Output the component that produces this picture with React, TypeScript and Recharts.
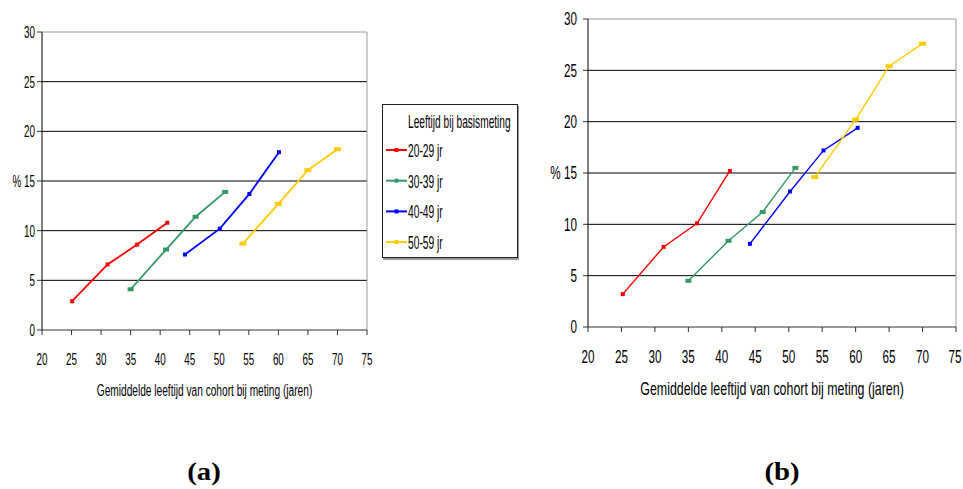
import React from 'react';
import { LineChart, Line, XAxis, YAxis, CartesianGrid, Legend, ReferenceLine, Label } from 'recharts';

const SERIES_NAMES = ['20-29 jr', '30-39 jr', '40-49 jr', '50-59 jr'];
const LEGEND_TITLE = 'Leeftijd bij basismeting';
const X_TITLE = 'Gemiddelde leeftijd van cohort bij meting (jaren)';
const X_TICKS = [20, 25, 30, 35, 40, 45, 50, 55, 60, 65, 70, 75];
const Y_TICKS = [0, 5, 10, 15, 20, 25, 30];
const GRID_VALUES = [5, 10, 15, 20, 25];

// (a) gemiddelde leeftijd en percentage per cohort
const AGES_A = [
  [25.1, 31.1, 36.1, 41.2],
  [35.0, 41.0, 46.0, 51.0],
  [44.2, 50.1, 55.1, 60.1],
  [54.0, 60.0, 65.0, 70.0],
];
const PCT_A = [
  [2.9, 6.6, 8.6, 10.8],
  [4.1, 8.1, 11.4, 13.9],
  [7.6, 10.2, 13.7, 17.9],
  [8.7, 12.7, 16.1, 18.2],
];

// (b)
const AGES_B = [
  [25.2, 31.3, 36.3, 41.2],
  [35.0, 41.0, 46.1, 51.0],
  [44.2, 50.2, 55.2, 60.3],
  [53.9, 60.0, 65.0, 70.0],
];
const PCT_B = [
  [3.2, 7.8, 10.1, 15.2],
  [4.5, 8.4, 11.2, 15.5],
  [8.1, 13.2, 17.2, 19.4],
  [14.6, 20.2, 25.4, 27.6],
];

const COLORS = ['#ff0000', '#339966', '#0000ff', '#ffcc00'];
const MARKER_W = [4, 6, 4, 7];
const MARKER_H = [4, 4, 4, 4];

// smalle letter (Arial Narrow-achtig) via horizontale schaal
const FONT = "'Liberation Sans', Arial, sans-serif";

const NarrowText = ({ x, y, size, sx, anchor, children }: any) => (
  <text
    transform={`translate(${x},${y}) scale(${sx},1)`}
    x={0}
    y={0}
    textAnchor={anchor}
    fontFamily={FONT}
    fontSize={size}
    fill="#000"
  >
    {children}
  </text>
);

const makeXTick = (size: number, sx: number) => (props: any) => {
  const { x, y, payload } = props;
  return <NarrowText x={x} y={y + size * 0.716} size={size} sx={sx} anchor="middle">{payload.value}</NarrowText>;
};

const makeYTick = (size: number, sx: number) => (props: any) => {
  const { x, y, payload } = props;
  const v = payload.value;
  return (
    <NarrowText x={x} y={y + size * 0.358} size={size} sx={sx} anchor="end">
      {v === 15 ? `%  ${v}` : `${v}`}
    </NarrowText>
  );
};

const makeTitle = (size: number, sx: number, top: number) => (props: any) => {
  const vb = props.viewBox || {};
  const cx = (vb.x ?? 0) + (vb.width ?? 0) / 2;
  const y = (vb.y ?? 0) + top + size * 0.716;
  return <NarrowText x={cx} y={y} size={size} sx={sx} anchor="middle">{X_TITLE}</NarrowText>;
};

const makeDot = (i: number) => (props: any) => {
  const { cx, cy, index } = props;
  if (cx == null || cy == null) return <g key={index} />;
  const w = MARKER_W[i];
  const h = MARKER_H[i];
  return <rect key={index} x={cx - w / 2} y={cy - h / 2} width={w} height={h} fill={COLORS[i]} />;
};

const renderLegend = (props: any) => {
  const payload = props.payload || [];
  return (
    <div style={{ position: 'relative', width: 134, height: 152, border: '1px solid #222', boxShadow: '1px 2px 0 #999', background: '#fff' }}>
      <svg width={134} height={152} style={{ position: 'absolute', left: 0, top: 0 }}>
        <NarrowText x={25} y={23} size={17.5} sx={0.58} anchor="start">{LEGEND_TITLE}</NarrowText>
        {payload.map((entry: any, i: number) => (
          <g key={`leg-${i}`}>
            <line x1={3} y1={45 + i * 30.7} x2={24} y2={45 + i * 30.7} stroke={entry.color} strokeWidth={2} />
            <rect x={11.5} y={43 + i * 30.7} width={4} height={4} fill={entry.color} />
            <NarrowText x={25} y={52 + i * 30.7} size={18} sx={0.57} anchor="start">{entry.value}</NarrowText>
          </g>
        ))}
      </svg>
    </div>
  );
};

interface PanelProps {
  ages: number[][];
  pcts: number[][];
  width: number;
  height: number;
  margin: { top: number; right: number; bottom: number; left: number };
  yWidth: number;
  xHeight: number;
  tickFont: number;
  tickScale: number;
  yTickMargin: number;
  titleFont: number;
  titleScale: number;
  titleTop: number;
  strokeW: number;
  legend?: boolean;
}

const Panel: React.FC<PanelProps> = (p) => (
  <LineChart width={p.width} height={p.height} margin={p.margin}>
    <CartesianGrid horizontal vertical={false} horizontalValues={GRID_VALUES} stroke="#000" strokeWidth={1} />
    <ReferenceLine y={30} stroke="#999" />
    <ReferenceLine x={75} stroke="#999" />
    <XAxis
      type="number"
      dataKey="age"
      domain={[20, 75]}
      ticks={X_TICKS}
      allowDataOverflow
      height={p.xHeight}
      tickSize={5}
      tickMargin={18}
      axisLine={{ stroke: '#333' }}
      tickLine={{ stroke: '#333' }}
      tick={makeXTick(p.tickFont, p.tickScale)}
    >
      <Label content={makeTitle(p.titleFont, p.titleScale, p.titleTop)} />
    </XAxis>
    <YAxis
      type="number"
      domain={[0, 30]}
      ticks={Y_TICKS}
      width={p.yWidth}
      tickSize={5}
      tickMargin={p.yTickMargin}
      axisLine={{ stroke: '#000' }}
      tickLine={{ stroke: '#333' }}
      tick={makeYTick(p.tickFont, p.tickScale)}
    />
    {SERIES_NAMES.map((name, i) => (
      <Line
        key={name}
        name={name}
        data={p.ages[i].map((a, j) => ({ age: a, pct: p.pcts[i][j] }))}
        dataKey="pct"
        stroke={COLORS[i]}
        strokeWidth={p.strokeW}
        dot={makeDot(i)}
        activeDot={false}
        isAnimationActive={false}
      />
    ))}
    {p.legend && (
      <Legend
        layout="vertical"
        align="center"
        verticalAlign="middle"
        content={renderLegend}
        wrapperStyle={{ position: 'absolute', left: 382, top: 104, width: 136, height: 154 }}
      />
    )}
  </LineChart>
);

const capStyle: React.CSSProperties = {
  position: 'absolute',
  top: 459,
  width: 60,
  textAlign: 'center',
  fontFamily: "'Liberation Serif', 'Times New Roman', serif",
  fontWeight: 'bold',
  fontSize: 25,
  lineHeight: '25px',
  transform: 'scaleX(1.15)',
};

export default function App() {
  return (
    <div style={{ position: 'absolute', left: 0, top: 0, width: 963, height: 489, background: '#fff' }}>
      <div style={{ position: 'absolute', left: 0, top: 0 }}>
        <Panel
          ages={AGES_A}
          pcts={PCT_A}
          width={520}
          height={420}
          margin={{ top: 32, right: 153, bottom: 0, left: 0 }}
          yWidth={42}
          xHeight={90}
          tickFont={17}
          tickScale={0.58}
          yTickMargin={2}
          titleFont={16}
          titleScale={0.635}
          titleTop={55}
          strokeW={1.8}
          legend
        />
      </div>
      <div style={{ position: 'absolute', left: 520, top: 0 }}>
        <Panel
          ages={AGES_B}
          pcts={PCT_B}
          width={443}
          height={420}
          margin={{ top: 19, right: 7, bottom: 0, left: 0 }}
          yWidth={68}
          xHeight={93}
          tickFont={18}
          tickScale={0.65}
          yTickMargin={6}
          titleFont={18}
          titleScale={0.69}
          titleTop={55}
          strokeW={1.4}
        />
      </div>
      <div style={{ ...capStyle, left: 174 }}>(a)</div>
      <div style={{ ...capStyle, left: 752 }}>(b)</div>
    </div>
  );
}
